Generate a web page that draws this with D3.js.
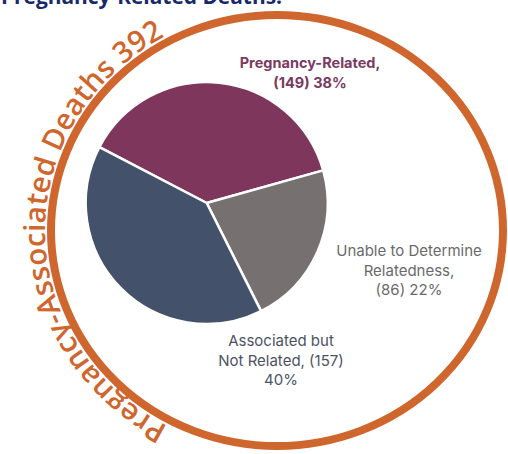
<!DOCTYPE html>
<html>
<head>
<meta charset="utf-8">
<script src="https://cdn.jsdelivr.net/npm/d3@7"></script>
<style>
  html, body { margin: 0; padding: 0; background: #fff; }
  svg { display: block; }
</style>
</head>
<body>
<svg id="chart" width="508" height="454"></svg>
<script>
// Pregnancy-associated deaths by relatedness
const categories = ["Pregnancy-Related", "Unable to Determine Relatedness", "Associated but Not Related"];
const counts = [149, 86, 157];
const percents = [38, 22, 40];
const colors = ["#7e365c", "#767170", "#43526a"];
const title = "Pregnancy-Related Deaths:";
const ringTitle = "Pregnancy-Associated Deaths";

const total = d3.sum(counts);

const svg = d3.select("#chart");

// Heading, partly above the top edge
svg.append("text")
  .attr("x", 1)
  .attr("y", 4)
  .attr("textLength", 281)
  .attr("lengthAdjust", "spacingAndGlyphs")
  .style("font-family", "'Open Sans', sans-serif")
  .style("font-weight", 700)
  .style("font-size", "21px")
  .style("fill", "#17296a")
  .text(title);

// Outer ring enclosing all pregnancy-associated deaths
const ring = { cx: 277, cy: 230.5, rx: 226, ry: 215.5 };
const orange = "#cf662d";

svg.append("ellipse")
  .attr("cx", ring.cx).attr("cy", ring.cy)
  .attr("rx", ring.rx).attr("ry", ring.ry)
  .attr("fill", "none")
  .attr("stroke", orange)
  .attr("stroke-width", 8);

// Curved caption running clockwise just outside the ring
const off = 6;
const RX = ring.rx + off, RY = ring.ry + off;
const t0 = 118 * Math.PI / 180, t1 = 241 * Math.PI / 180;
const p0 = [ring.cx + RX * Math.cos(t0), ring.cy + RY * Math.sin(t0)];
const p1 = [ring.cx + RX * Math.cos(t1), ring.cy + RY * Math.sin(t1)];
svg.append("defs").append("path")
  .attr("id", "caption-path")
  .attr("d", `M${p0[0]},${p0[1]} A${RX},${RY} 0 0 1 ${p1[0]},${p1[1]}`);

const pathLen = document.getElementById("caption-path").getTotalLength();

const caption = svg.append("text")
  .style("font-family", "'Open Sans', sans-serif")
  .style("font-weight", 600)
  .style("font-size", "28px")
  .style("fill", orange);
const captionPathText = caption.append("textPath")
  .attr("href", "#caption-path")
  .text(`${ringTitle} ${total}`);

// size the caption so it fills the arc
const natural = captionPathText.node().getComputedTextLength();
caption.style("font-size", (28 * pathLen / natural * 0.99) + "px");
captionPathText.attr("textLength", pathLen).attr("lengthAdjust", "spacing");

// Pie of the three relatedness groups
const pieCenter = [206.7, 203];
const radius = 121;
const deg = Math.PI / 180;

const pie = d3.pie()
  .sort(null)
  .value(d => d.count)
  .startAngle(-62.5 * deg)
  .endAngle(297.5 * deg);

const data = categories.map((c, i) => ({ category: c, count: counts[i], pct: percents[i], color: colors[i] }));
const arcs = pie(data);
const arc = d3.arc().innerRadius(0).outerRadius(radius);

const g = svg.append("g").attr("transform", `translate(${pieCenter[0]},${pieCenter[1]})`);
g.selectAll("path.slice")
  .data(arcs)
  .join("path")
  .attr("class", "slice")
  .attr("d", arc)
  .attr("fill", d => d.data.color)
  .attr("stroke", "#fff")
  .attr("stroke-width", 2.5)
  .attr("stroke-linejoin", "round");

// Slice labels
const labelSpecs = [
  { lines: d => ["Pregnancy-Related,", `(${d.count}) ${d.pct}%`], x: 310, y: 68, weight: 700, fill: "#7b3a5f", size: 14.5 },
  { lines: d => ["Unable to Determine", "Relatedness,", `(${d.count}) ${d.pct}%`], x: 409, y: 256, weight: 400, fill: "#6a6a6c", size: 15 },
  { lines: d => ["Associated but", `Not Related, (${d.count})`, `${d.pct}%`], x: 281, y: 346, weight: 400, fill: "#4d5363", size: 15 }
];

arcs.forEach((a, i) => {
  const spec = labelSpecs[i];
  spec.lines(a.data).forEach((line, j) => {
    svg.append("text")
      .attr("text-anchor", "middle")
      .attr("x", spec.x)
      .attr("y", spec.y + j * 19.5)
      .style("font-family", "Inter, sans-serif")
      .style("font-weight", spec.weight)
      .style("font-size", spec.size + "px")
      .style("fill", spec.fill)
      .text(line);
  });
});
</script>
</body>
</html>
